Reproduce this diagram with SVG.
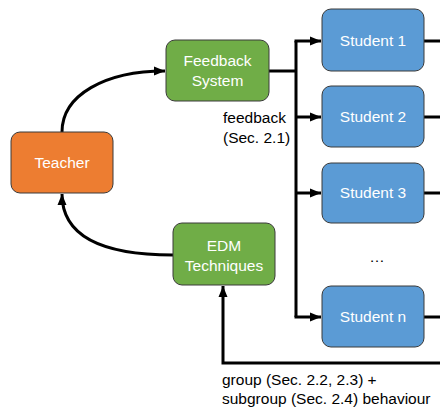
<svg xmlns="http://www.w3.org/2000/svg" width="440" height="416" viewBox="0 0 440 416">
  <defs>
    <marker id="arrow" markerUnits="userSpaceOnUse" markerWidth="12" markerHeight="12" viewBox="0 0 12 12" refX="11" refY="6" orient="auto">
      <path d="M0,1.5 L11,6 L0,10.5 Z" fill="#000"/>
    </marker>
  </defs>
  <style>
    .box { stroke: #3a3a3a; stroke-width: 1; }
    .teacher { fill: #ED7D31; }
    .green { fill: #70AD47; }
    .student { fill: #5B9BD5; }
    .lbl { font-family: "Liberation Sans", Arial, sans-serif; font-size: 15.5px; fill: #fff; text-anchor: middle; }
    .note { font-family: "Liberation Sans", Arial, sans-serif; font-size: 15.5px; fill: #000; }
    .wire { fill: none; stroke: #000; stroke-width: 3; }
  </style>

  <!-- connectors -->
  <g id="connectors">
    <path class="wire" d="M62,132 C62,95 105,71 165,71" marker-end="url(#arrow)"/>
    <path class="wire" d="M173,255 C110,255 62,240 62,194" marker-end="url(#arrow)"/>
    <path class="wire" d="M269,71 L296,71"/>
    <path class="wire" d="M296,41 L296,317"/>
    <path class="wire" d="M294.5,41 L321,41" marker-end="url(#arrow)"/>
    <path class="wire" d="M296,117 L321,117" marker-end="url(#arrow)"/>
    <path class="wire" d="M296,193 L321,193" marker-end="url(#arrow)"/>
    <path class="wire" d="M294.5,317 L321,317" marker-end="url(#arrow)"/>
    <path class="wire" d="M424,41 L440,41"/>
    <path class="wire" d="M424,117 L440,117"/>
    <path class="wire" d="M424,193 L440,193"/>
    <path class="wire" d="M424,317 L440,317"/>
    <path class="wire" d="M440,363 L223,363 L223,286" marker-end="url(#arrow)"/>
  </g>

  <g id="teacher">
    <rect class="box teacher" x="11" y="132" width="102" height="61" rx="9"/>
    <text class="lbl" x="62" y="168">Teacher</text>
  </g>

  <g id="feedback-system">
    <rect class="box green" x="166" y="40" width="103" height="61" rx="9"/>
    <text class="lbl" x="217.5" y="66">Feedback</text>
    <text class="lbl" x="217.5" y="86">System</text>
  </g>

  <g id="edm-techniques">
    <rect class="box green" x="173" y="223" width="102" height="62" rx="9"/>
    <text class="lbl" x="224" y="251">EDM</text>
    <text class="lbl" x="224" y="271">Techniques</text>
  </g>

  <g id="student-1">
    <rect class="box student" x="322" y="9" width="102" height="62" rx="9"/>
    <text class="lbl" x="373" y="46">Student 1</text>
  </g>
  <g id="student-2">
    <rect class="box student" x="322" y="86" width="102" height="61" rx="9"/>
    <text class="lbl" x="373" y="122">Student 2</text>
  </g>
  <g id="student-3">
    <rect class="box student" x="322" y="163" width="102" height="60" rx="9"/>
    <text class="lbl" x="373" y="198">Student 3</text>
  </g>
  <g id="student-n">
    <rect class="box student" x="322" y="286" width="102" height="61" rx="9"/>
    <text class="lbl" x="373" y="322">Student n</text>
  </g>

  <text class="note" x="377" y="262" text-anchor="middle">…</text>
  <text class="note" x="223" y="123">feedback</text>
  <text class="note" x="223" y="143">(Sec. 2.1)</text>
  <text class="note" x="222" y="385">group (Sec. 2.2, 2.3) +</text>
  <text class="note" x="222" y="404">subgroup (Sec. 2.4) behaviour</text>
</svg>
